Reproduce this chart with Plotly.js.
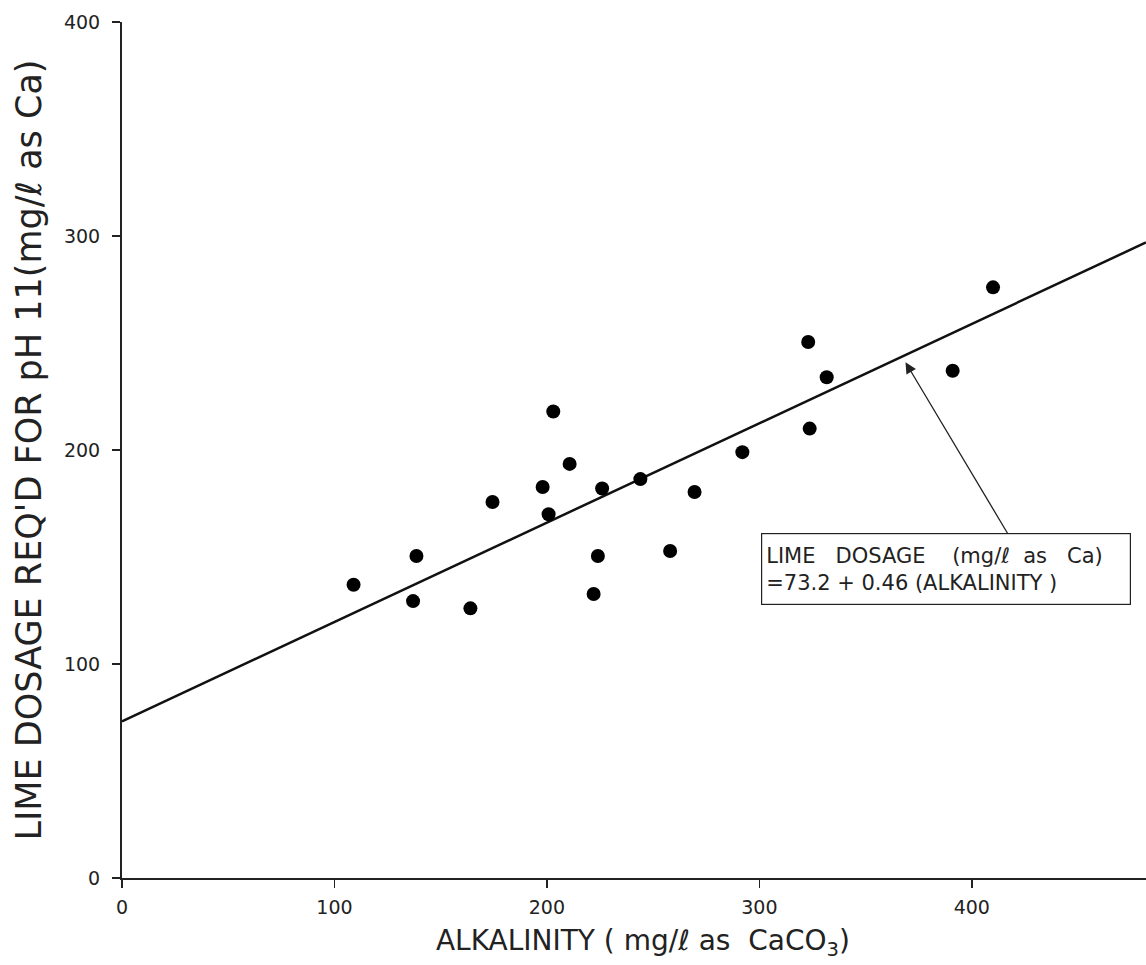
<!DOCTYPE html>
<html>
<head>
<meta charset="utf-8">
<script src="https://cdn.plot.ly/plotly-3.0.1.min.js"></script>
<style>
html,body{margin:0;padding:0;background:#fff;}
#chart{width:1146px;height:965px;}
</style>
</head>
<body>
<div id="chart"></div>
<script>
const alkalinity = [109, 138.6, 137, 164, 174.4, 198, 200.8, 203, 210.7, 226, 224, 222, 244, 258, 269.5, 292, 323, 323.7, 331.7, 391, 410];
const limeDosage = [137, 150.5, 129.4, 126, 175.7, 182.7, 170, 218, 193.5, 182, 150.5, 132.7, 186.4, 152.8, 180.4, 199, 250.5, 210, 234, 237, 276];

// Regression line end points as drawn: LIME = 73.2 + 0.46 * ALK
const fitX = [0, 482];
const fitY = [73.2, 297];

const xTicks = [0, 100, 200, 300, 400];
const yTicks = [0, 100, 200, 300, 400];

const equationLines = [
  "LIME&nbsp;&nbsp;&nbsp;DOSAGE&nbsp;&nbsp;&nbsp;&nbsp;(mg/ℓ&nbsp;&nbsp;as&nbsp;&nbsp;&nbsp;Ca)",
  "=73.2 + 0.46 (ALKALINITY )"
];
const arrowHead = [368.8, 241];
const arrowTail = [417.3, 160.3];
const boxAt = [387.7, 144.4];

const fontFam = "'DejaVu Sans', 'Liberation Sans', Arial, sans-serif";

const traces = [
  {
    x: fitX, y: fitY, type: 'scatter', mode: 'lines',
    line: {color: '#111', width: 2.5}, hoverinfo: 'skip', showlegend: false
  },
  {
    x: alkalinity, y: limeDosage, type: 'scatter', mode: 'markers',
    marker: {color: '#000', size: 14}, showlegend: false
  }
];

const layout = {
  width: 1146, height: 965,
  margin: {l: 122, r: 0, t: 22, b: 87},
  paper_bgcolor: '#fff', plot_bgcolor: '#fff',
  font: {family: fontFam, color: '#222'},
  showlegend: false,
  xaxis: {
    range: [0, 482], tickvals: xTicks, ticktext: xTicks.map(String),
    showgrid: false, zeroline: false, showline: true, linecolor: '#222', linewidth: 2,
    ticks: 'outside', ticklen: 8, tickwidth: 1.5, tickcolor: '#222',
    ticklabelstandoff: 3,
    tickfont: {size: 19, color: '#222'},
    title: {text: '&nbsp;&nbsp;ALKALINITY ( mg/ℓ as&nbsp;&nbsp;CaCO<sub>3</sub>)', font: {size: 28, color: '#222'}, standoff: 14}
  },
  yaxis: {
    range: [0, 400], tickvals: yTicks, ticktext: yTicks.map(String),
    showgrid: false, zeroline: false, showline: true, linecolor: '#222', linewidth: 2,
    ticks: 'outside', ticklen: 8, tickwidth: 1.5, tickcolor: '#222',
    ticklabelstandoff: 8,
    tickfont: {size: 19, color: '#222'},
    title: {text: "LIME DOSAGE REQ'D FOR pH 11(mg/ℓ as Ca)", font: {size: 35, color: '#222'}, standoff: 12}
  },
  annotations: [
    {
      x: arrowHead[0], y: arrowHead[1], xref: 'x', yref: 'y',
      ax: arrowTail[0], ay: arrowTail[1], axref: 'x', ayref: 'y',
      text: '', showarrow: true, arrowhead: 2, arrowsize: 1.7, arrowwidth: 1.3, arrowcolor: '#222'
    },
    {
      x: boxAt[0], y: boxAt[1], xref: 'x', yref: 'y',
      text: equationLines.join('<br>'), showarrow: false, align: 'left',
      font: {size: 21, color: '#222', family: fontFam},
      bordercolor: '#222', borderwidth: 1.2, borderpad: 4, bgcolor: '#fff',
      width: 360, height: 62
    }
  ]
};

Plotly.newPlot('chart', traces, layout, {displayModeBar: false, staticPlot: true});
</script>
</body>
</html>
